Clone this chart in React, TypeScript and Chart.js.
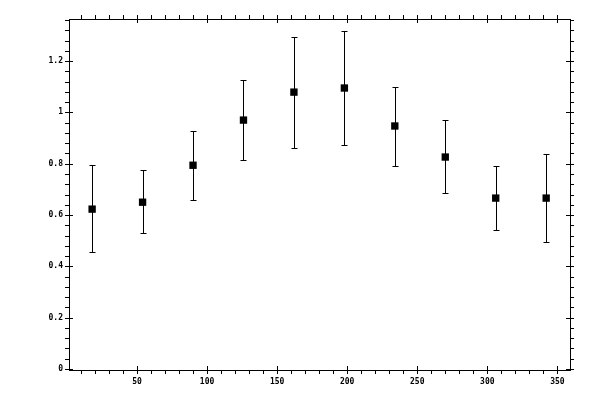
import React, { useEffect, useRef } from 'react';
import { Chart, registerables } from 'chart.js';

Chart.register(...registerables);

// bin centres (degrees)
const angles = [18, 54, 90, 126, 162, 198, 234, 270, 306, 342];
const means = [0.623, 0.65, 0.794, 0.97, 1.079, 1.095, 0.947, 0.826, 0.666, 0.666];
const upper = [0.796, 0.775, 0.929, 1.126, 1.294, 1.317, 1.099, 0.97, 0.79, 0.838];
const lower = [0.455, 0.529, 0.658, 0.814, 0.861, 0.872, 0.79, 0.685, 0.541, 0.494];

const xTickLabels = [50, 100, 150, 200, 250, 300, 350];
const yTickLabels = ['0', '0.2', '0.4', '0.6', '0.8', '1', '1.2'];

const FONT = 'bold 8px "DejaVu Sans Mono", monospace';

const frame = {
   id: 'frame',
   afterDatasetsDraw(chart: any) {
      const ctx = chart.ctx;
      const { left, right, top, bottom } = chart.chartArea;
      const xs = chart.scales.x;
      const ys = chart.scales.y;
      ctx.save();
      ctx.strokeStyle = '#000';
      ctx.fillStyle = '#000';
      ctx.lineWidth = 1;

      // error bars
      angles.forEach((a, i) => {
         const x = Math.round(xs.getPixelForValue(a)) + 0.5;
         const yt = Math.round(ys.getPixelForValue(upper[i])) + 0.5;
         const yb = Math.round(ys.getPixelForValue(lower[i])) + 0.5;
         ctx.beginPath();
         ctx.moveTo(x, yt);
         ctx.lineTo(x, yb);
         ctx.moveTo(x - 3, yt);
         ctx.lineTo(x + 3, yt);
         ctx.moveTo(x - 3, yb);
         ctx.lineTo(x + 3, yb);
         ctx.stroke();
      });

      // box
      ctx.strokeRect(Math.round(left) + 0.5, Math.round(top) + 0.5, Math.round(right - left), Math.round(bottom - top));

      // x ticks
      ctx.font = FONT;
      ctx.textAlign = 'center';
      ctx.textBaseline = 'top';
      for (let v = 10; v <= 350; v += 10) {
         const px = Math.round(xs.getPixelForValue(v)) + 0.5;
         const major = v % 50 === 0;
         ctx.beginPath();
         ctx.moveTo(px, major ? bottom - 4 : bottom);
         ctx.lineTo(px, bottom + 4);
         ctx.moveTo(px, major ? top + 4 : top);
         ctx.lineTo(px, top - 4);
         ctx.stroke();
      }
      xTickLabels.forEach((v) => {
         ctx.fillText(String(v), xs.getPixelForValue(v), bottom + 8);
      });

      // y ticks
      ctx.textAlign = 'right';
      ctx.textBaseline = 'middle';
      for (let k = 0; k <= 34; k++) {
         const v = k * 0.04;
         const py = Math.round(ys.getPixelForValue(v)) + 0.5;
         const major = k % 5 === 0;
         ctx.beginPath();
         ctx.moveTo(major ? left + 4 : left, py);
         ctx.lineTo(left - 4, py);
         ctx.moveTo(major ? right - 4 : right, py);
         ctx.lineTo(right + 4, py);
         ctx.stroke();
      }
      yTickLabels.forEach((t) => {
         ctx.fillText(t, left - 6, ys.getPixelForValue(parseFloat(t)));
      });
      ctx.restore();
   },
};

const App = () => {
   const canvasRef = useRef<HTMLCanvasElement | null>(null);

   useEffect(() => {
      document.body.style.margin = '0';
      if (!canvasRef.current) return;
      const chart = new Chart(canvasRef.current, {
         type: 'scatter',
         data: {
            datasets: [
               {
                  data: angles.map((a, i) => ({ x: a, y: means[i] })),
                  pointStyle: 'rect',
                  pointRadius: 5.2,
                  backgroundColor: '#000',
                  borderColor: '#000',
                  borderWidth: 0,
               },
            ],
         },
         options: {
            responsive: false,
            devicePixelRatio: 1,
            animation: false,
            layout: { padding: { left: 69, right: 30, top: 19, bottom: 30 } },
            plugins: { legend: { display: false }, tooltip: { enabled: false } },
            scales: {
               x: { type: 'linear', min: 1.5, max: 359, display: false },
               y: { type: 'linear', min: -0.004, max: 1.364, display: false },
            },
         },
         plugins: [frame],
      });
      return () => {
         chart.destroy();
      };
   }, []);

   return <canvas ref={canvasRef} width="600" height="400" />;
};

export default App;
